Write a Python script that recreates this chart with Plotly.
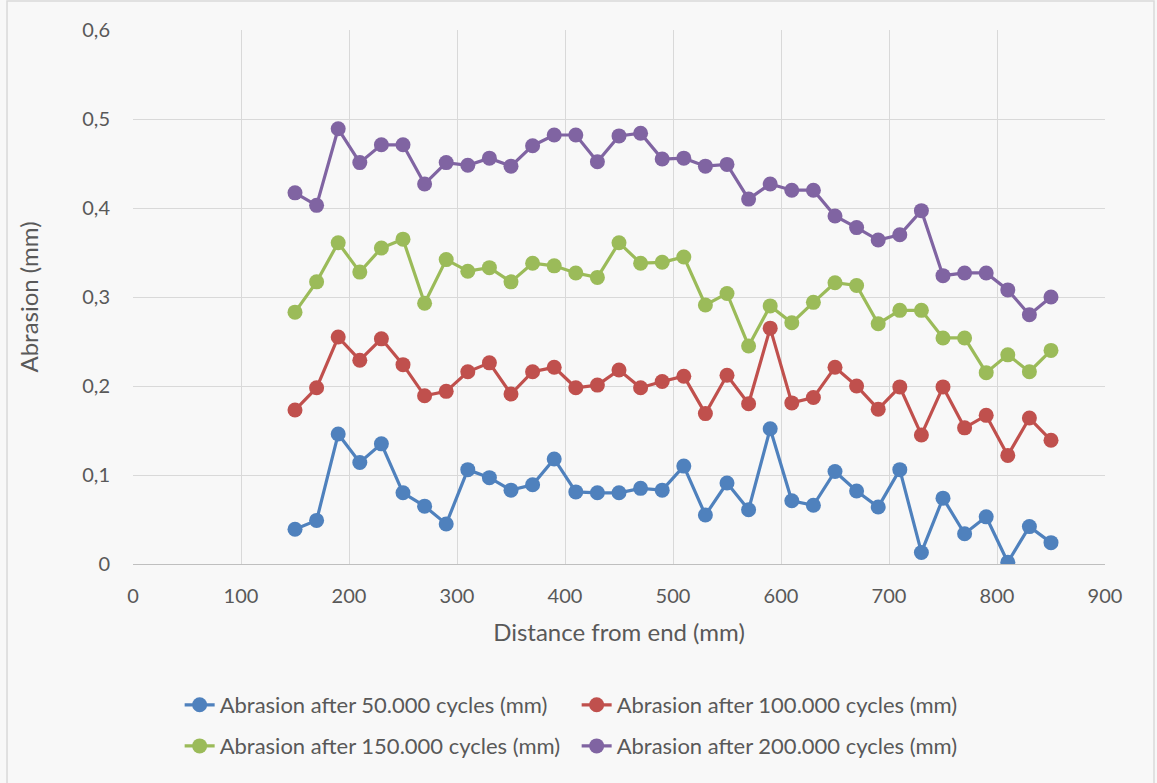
import plotly.graph_objects as go

distance = [150, 170, 190, 210, 230, 250, 270, 290, 310, 330, 350, 370, 390, 410, 430, 450, 470, 490,
            510, 530, 550, 570, 590, 610, 630, 650, 670, 690, 710, 730, 750, 770, 790, 810, 830, 850]

abr_50k = [0.039, 0.049, 0.146, 0.114, 0.135, 0.080, 0.065, 0.045, 0.106, 0.097, 0.083, 0.089, 0.118, 0.081,
           0.080, 0.080, 0.085, 0.083, 0.110, 0.055, 0.091, 0.061, 0.152, 0.071, 0.066, 0.104, 0.082, 0.064,
           0.106, 0.013, 0.074, 0.034, 0.053, 0.002, 0.042, 0.024]
abr_100k = [0.173, 0.198, 0.255, 0.229, 0.253, 0.224, 0.189, 0.194, 0.216, 0.226, 0.191, 0.216, 0.221, 0.198,
            0.201, 0.218, 0.198, 0.205, 0.211, 0.169, 0.212, 0.180, 0.265, 0.181, 0.187, 0.221, 0.200, 0.174,
            0.199, 0.145, 0.199, 0.153, 0.167, 0.122, 0.164, 0.139]
abr_150k = [0.283, 0.317, 0.361, 0.328, 0.355, 0.365, 0.293, 0.342, 0.329, 0.333, 0.317, 0.338, 0.335, 0.327,
            0.322, 0.361, 0.338, 0.339, 0.345, 0.291, 0.304, 0.245, 0.290, 0.271, 0.294, 0.316, 0.313, 0.270,
            0.285, 0.285, 0.254, 0.254, 0.215, 0.235, 0.216, 0.240]
abr_200k = [0.417, 0.403, 0.489, 0.451, 0.471, 0.471, 0.427, 0.451, 0.448, 0.456, 0.447, 0.470, 0.482, 0.482,
            0.452, 0.481, 0.484, 0.455, 0.456, 0.447, 0.449, 0.410, 0.427, 0.420, 0.420, 0.391, 0.378, 0.364,
            0.370, 0.397, 0.324, 0.327, 0.327, 0.308, 0.280, 0.300]

series_names = ["Abrasion after 50.000 cycles (mm)", "Abrasion after 100.000 cycles (mm)",
                "Abrasion after 150.000 cycles (mm)", "Abrasion after 200.000 cycles (mm)"]
series_values = [abr_50k, abr_100k, abr_150k, abr_200k]
colors = ["#4f81bd", "#c0504d", "#9bbb59", "#8064a2"]
legend_ids = ["legend", "legend", "legend2", "legend2"]

x_ticks = [0, 100, 200, 300, 400, 500, 600, 700, 800, 900]
y_ticks = [0, 0.1, 0.2, 0.3, 0.4, 0.5, 0.6]

FONT = "Lato, 'Open Sans', sans-serif"
TXT = "#595959"

fig = go.Figure()
for name, vals, col, lg in zip(series_names, series_values, colors, legend_ids):
    fig.add_trace(go.Scatter(
        x=distance, y=vals, name=name, mode="lines+markers",
        line=dict(color=col, width=3.2),
        marker=dict(color=col, size=15),
        legend=lg,
    ))

legend_common = dict(orientation="h", x=0.048, xanchor="left", yanchor="middle",
                     entrywidth=352, entrywidthmode="pixels",
                     font=dict(family=FONT, size=22, color=TXT),
                     bgcolor="rgba(0,0,0,0)")

fig.update_layout(
    width=1157, height=783,
    margin=dict(l=133, r=52, t=30, b=219),
    paper_bgcolor="#f8f8f8", plot_bgcolor="#f8f8f8",
    separators=",.",
    font=dict(family=FONT, color=TXT, size=20),
    showlegend=True,
    legend=dict(y=-0.264, **legend_common),
    legend2=dict(y=-0.341, **legend_common),
    xaxis=dict(range=[0, 900], tickvals=x_ticks, showgrid=True, gridcolor="#d9d9d9", gridwidth=1,
               showline=True, linecolor="#bfbfbf", linewidth=1, zeroline=False,
               ticks="outside", ticklen=14, tickcolor="rgba(0,0,0,0)",
               tickfont=dict(size=20, color=TXT),
               title=dict(text="Distance from end (mm)", font=dict(size=24, color=TXT), standoff=18)),
    yaxis=dict(range=[0, 0.6], tickvals=y_ticks, showgrid=True, gridcolor="#d9d9d9", gridwidth=1,
               showline=False, zeroline=False,
               ticks="outside", ticklen=18, tickcolor="rgba(0,0,0,0)",
               tickfont=dict(size=20, color=TXT),
               title=dict(text="Abrasion (mm)", font=dict(size=24, color=TXT), standoff=36)),
    shapes=[dict(type="rect", xref="paper", yref="paper",
                 x0=-0.1296, x1=1.0504, y0=-0.43, y1=1.0543,
                 line=dict(color="#d9d9d9", width=1.5), fillcolor="rgba(0,0,0,0)", layer="below")],
)

fig.write_html("out.html", config={"displayModeBar": False},
               post_script="document.body.style.margin='0';")
